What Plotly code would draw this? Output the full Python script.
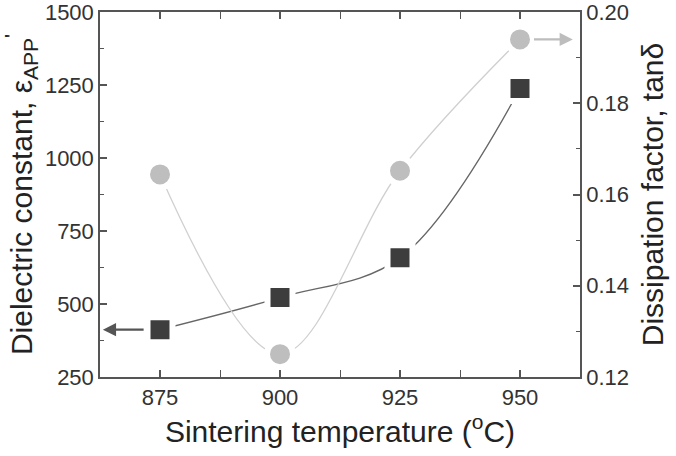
import plotly.graph_objects as go

temps = [875, 900, 925, 950]
eps_app = [412, 522, 658, 1238]
tan_delta = [0.1644, 0.1250, 0.1652, 0.1940]

x_ticks = [875, 900, 925, 950]
y1_ticks = [250, 500, 750, 1000, 1250, 1500]
y2_ticks = [0.12, 0.14, 0.16, 0.18, 0.20]

FONT = "Liberation Sans, Arial, sans-serif"
AX = "#555555"

fig = go.Figure()
fig.add_trace(go.Scatter(
    x=temps, y=eps_app, mode="lines+markers",
    line=dict(color="#666666", width=1.3, shape="spline", smoothing=1),
    marker=dict(symbol="square", size=25, color="#3d3d3d",
                line=dict(color="white", width=6)),
    showlegend=False, yaxis="y"))
fig.add_trace(go.Scatter(
    x=temps, y=tan_delta, mode="lines+markers",
    line=dict(color="#d0d0d0", width=1.3, shape="spline", smoothing=1),
    marker=dict(symbol="circle", size=26, color="#bebebe",
                line=dict(color="white", width=6)),
    showlegend=False, yaxis="y2"))

# arrows indicating which axis each series belongs to
fig.add_annotation(x=temps[0] - 11.9, y=eps_app[0], ax=temps[0] - 3.1, ay=eps_app[0],
                   xref="x", yref="y", axref="x", ayref="y", text="", showarrow=True,
                   arrowhead=2, arrowsize=1.2, arrowwidth=2.2, arrowcolor="#555555")
fig.add_annotation(x=temps[-1] + 11.0, y=tan_delta[-1], ax=temps[-1] + 2.6, ay=tan_delta[-1],
                   xref="x", yref="y2", axref="x", ayref="y2", text="", showarrow=True,
                   arrowhead=2, arrowsize=1.2, arrowwidth=2.2, arrowcolor="#bdbdbd")

tickfont = dict(family=FONT, size=22, color="#333333")
titlefont = dict(family=FONT, size=30, color="#222222")

fig.update_layout(
    width=676, height=456,
    margin=dict(l=100, r=96, t=12, b=79),
    paper_bgcolor="white", plot_bgcolor="white",
    xaxis=dict(range=[862.5, 962.5], tickvals=x_ticks, ticktext=[str(t) for t in x_ticks],
               ticks="inside", ticklen=7, tickwidth=1.5, tickcolor=AX,
               minor=dict(dtick=12.5, tick0=875, ticks="inside", ticklen=4, tickwidth=1.2, tickcolor=AX),
               showline=True, linecolor=AX, linewidth=1.5, mirror="allticks",
               showgrid=False, zeroline=False, tickfont=tickfont, automargin=False,
               ticklabeloverflow="allow",
               title=dict(text="Sintering temperature (<sup>o</sup>C)", font=titlefont, standoff=10)),
    yaxis=dict(range=[250, 1500], tickvals=y1_ticks, ticktext=[str(t) for t in y1_ticks],
               ticks="inside", ticklen=7, tickwidth=1.5, tickcolor=AX,
               minor=dict(dtick=125, tick0=250, ticks="inside", ticklen=4, tickwidth=1.2, tickcolor=AX),
               showline=True, linecolor=AX, linewidth=1.5,
               showgrid=False, zeroline=False, tickfont=tickfont, automargin=False,
               ticklabeloverflow="allow",
               title=dict(text="Dielectric constant, ε<sub>APP</sub><sup>'</sup>", font=titlefont, standoff=6)),
    yaxis2=dict(range=[0.12, 0.20], tickvals=y2_ticks, ticktext=["%.2f" % t for t in y2_ticks],
                overlaying="y", side="right",
                ticks="inside", ticklen=7, tickwidth=1.5, tickcolor=AX,
                minor=dict(dtick=0.01, tick0=0.12, ticks="inside", ticklen=4, tickwidth=1.2, tickcolor=AX),
                showline=True, linecolor=AX, linewidth=1.5,
                showgrid=False, zeroline=False, tickfont=tickfont, automargin=False,
                ticklabeloverflow="allow",
                title=dict(text="Dissipation factor, tanδ", font=titlefont, standoff=14)),
)

fig.write_html("out.html")
